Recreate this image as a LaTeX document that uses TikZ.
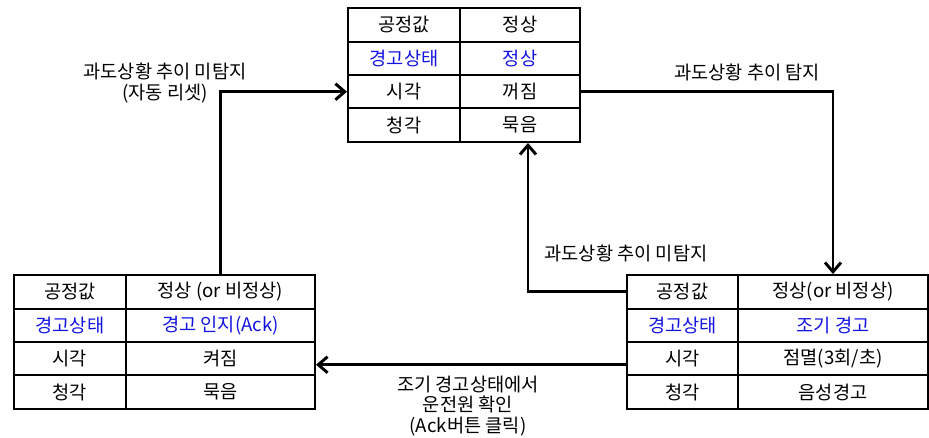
\documentclass[tikz,border=0pt]{standalone}
\usepackage{fontspec}
\setmainfont{Noto Sans CJK KR}
\usetikzlibrary{matrix,arrows.meta}

\definecolor{alarmblue}{RGB}{20,20,225}

\begin{document}
\begin{tikzpicture}[x=0.75pt,y=-0.75pt,font=\fontsize{14}{16}\selectfont,
    statetable/.style={matrix of nodes,row sep=-1.5pt,column sep=-1.5pt,
        nodes={draw,line width=1.5pt,minimum height=25.1pt,inner sep=0pt,anchor=center}},
    alarm/.style={text=alarmblue},
    flow/.style={line width=2.2pt,-{Straight Barb[length=7pt,width=12pt]}},
    note/.style={align=center,font=\fontsize{14}{15.5}\selectfont}]

        \useasboundingbox (0,0) rectangle (929,438);

        % Normal state (top)
        \matrix (top) at (464,75) [statetable,
            column 1/.style={nodes={minimum width=84pt}},
            column 2/.style={nodes={minimum width=90pt}}] {
            공정값 & 정상 \\
            |[alarm]| 경고상태 & |[alarm]| 정상 \\
            시각 & 꺼짐 \\
            청각 & 묵음 \\
        };

        % Acknowledged state (bottom left)
        \matrix (ack) at (164.5,342) [statetable,
            column 1/.style={nodes={minimum width=84pt}},
            column 2/.style={nodes={minimum width=141.75pt}}] {
            공정값 & 정상 (or 비정상) \\
            |[alarm]| 경고상태 & |[alarm]| 경고 인지(Ack) \\
            시각 & 켜짐 \\
            청각 & 묵음 \\
        };

        % Early warning state (bottom right)
        \matrix (early) at (777.5,342) [statetable,
            column 1/.style={nodes={minimum width=83.25pt}},
            column 2/.style={nodes={minimum width=142.5pt}}] {
            공정값 & 정상(or 비정상) \\
            |[alarm]| 경고상태 & |[alarm]| 조기 경고 \\
            시각 & 점멸(3회/초) \\
            청각 & 음성경고 \\
        };

        % Transitions
        \draw[flow] (ack-1-2.north) |- (top-3-1.west);
        \draw[flow] (top-3-2.east) -| (early-1-2.north);
        \draw[flow] (early-1-1.west) -| ([xshift=6pt]top-4-2.south);
        \draw[flow] ([yshift=-4.5pt]early-3-1.west) -- ([yshift=-4.5pt]ack-3-2.east);

        % Transition labels
        \node[note] (resetlbl) at (165,83) {과도상황 추이 미탐지\\(자동 리셋)};
        \node[note] (detectlbl) at (747,72) {과도상황 추이 탐지};
        \node[note] (missedlbl) at (626,253) {과도상황 추이 미탐지};
        \node[note] (acklbl) at (468,406) {조기 경고상태에서\\운전원 확인\\(Ack버튼 클릭)};
    \end{tikzpicture}
\end{document}
